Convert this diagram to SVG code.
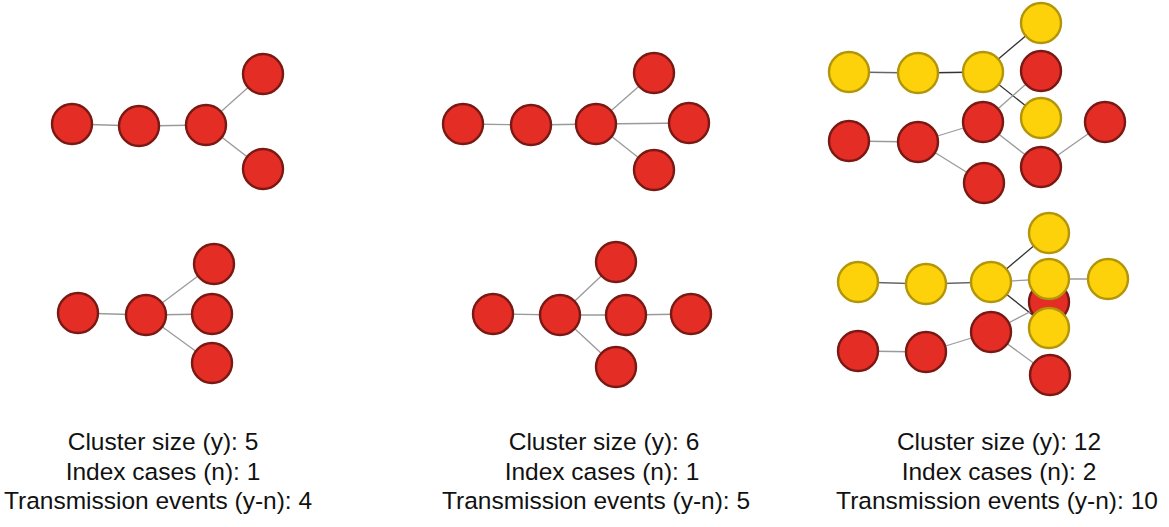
<svg xmlns="http://www.w3.org/2000/svg" width="1169" height="527" viewBox="0 0 1169 527">
<style>
.r{fill:#e32d25;stroke:#7a1913;stroke-width:2.4}
.y{fill:#fed20a;stroke:#b39509;stroke-width:2.4}
.e{stroke:#9a9a9a;stroke-width:1.3;fill:none}
.d{stroke:#333;stroke-width:1.3;fill:none}
.m{stroke:#666;stroke-width:1.3;fill:none}
.t{font-family:"Liberation Sans",Arial,sans-serif;font-size:24.5px;fill:#111;text-anchor:middle}
</style>
<rect width="1169" height="527" fill="#fff"/>
<g id="connectors">
<line class="e" x1="72" y1="124" x2="139" y2="126"/>
<line class="e" x1="139" y1="126" x2="206" y2="125"/>
<line class="e" x1="206" y1="125" x2="263" y2="74"/>
<line class="e" x1="206" y1="125" x2="263" y2="169"/>
<line class="e" x1="463" y1="124" x2="531" y2="125"/>
<line class="e" x1="531" y1="125" x2="596" y2="124"/>
<line class="e" x1="596" y1="124" x2="654" y2="73"/>
<line class="e" x1="596" y1="124" x2="689" y2="123"/>
<line class="e" x1="596" y1="124" x2="654" y2="170"/>
<line class="m" x1="849" y1="72" x2="918" y2="73"/>
<line class="d" x1="918" y1="73" x2="983" y2="72"/>
<line class="d" x1="983" y1="72" x2="1041" y2="23"/>
<line class="d" x1="983" y1="72" x2="1041" y2="118"/>
<line class="e" x1="849" y1="141" x2="918" y2="142"/>
<line class="e" x1="918" y1="142" x2="983" y2="122"/>
<line class="e" x1="918" y1="142" x2="984" y2="183"/>
<line class="e" x1="983" y1="122" x2="1041" y2="71"/>
<line class="e" x1="983" y1="122" x2="1041" y2="167"/>
<line class="e" x1="1041" y1="167" x2="1105" y2="122"/>
<line class="e" x1="78" y1="313" x2="146" y2="315"/>
<line class="e" x1="146" y1="315" x2="214" y2="264"/>
<line class="e" x1="146" y1="315" x2="212" y2="314"/>
<line class="e" x1="146" y1="315" x2="212" y2="363"/>
<line class="e" x1="493" y1="314" x2="560" y2="315"/>
<line class="e" x1="560" y1="315" x2="616" y2="262"/>
<line class="e" x1="560" y1="315" x2="626" y2="315"/>
<line class="e" x1="560" y1="315" x2="616" y2="367"/>
<line class="e" x1="626" y1="315" x2="691" y2="314"/>
<line class="m" x1="858" y1="282" x2="926" y2="284"/>
<line class="m" x1="926" y1="284" x2="991" y2="282"/>
<line class="d" x1="991" y1="282" x2="1049" y2="233"/>
<line class="e" x1="991" y1="282" x2="1049" y2="279"/>
<line class="e" x1="1049" y1="279" x2="1108" y2="279"/>
<line class="d" x1="991" y1="282" x2="1049" y2="328"/>
<line class="e" x1="858" y1="351" x2="926" y2="352"/>
<line class="e" x1="926" y1="352" x2="991" y2="332"/>
<line class="e" x1="991" y1="332" x2="1049" y2="302"/>
<line class="e" x1="991" y1="332" x2="1050" y2="375"/>
</g>
<g id="p1">
<g id="p1n1"><circle class="r" cx="72" cy="124" r="20"/></g>
<g id="p1n2"><circle class="r" cx="139" cy="126" r="20"/></g>
<g id="p1n3"><circle class="r" cx="206" cy="125" r="20"/></g>
<g id="p1n4"><circle class="r" cx="263" cy="74" r="20"/></g>
<g id="p1n5"><circle class="r" cx="263" cy="169" r="20"/></g>
</g>
<g id="p2">
<g id="p2n1"><circle class="r" cx="463" cy="124" r="20"/></g>
<g id="p2n2"><circle class="r" cx="531" cy="125" r="20"/></g>
<g id="p2n3"><circle class="r" cx="596" cy="124" r="20"/></g>
<g id="p2n4"><circle class="r" cx="654" cy="73" r="20"/></g>
<g id="p2n5"><circle class="r" cx="689" cy="123" r="20"/></g>
<g id="p2n6"><circle class="r" cx="654" cy="170" r="20"/></g>
</g>
<g id="p3">
<g id="p3y1"><circle class="y" cx="849" cy="72" r="20"/></g>
<g id="p3y2"><circle class="y" cx="918" cy="73" r="20"/></g>
<g id="p3y3"><circle class="y" cx="983" cy="72" r="20"/></g>
<g id="p3y4"><circle class="y" cx="1041" cy="23" r="20"/></g>
<g id="p3r1"><circle class="r" cx="1041" cy="71" r="20"/></g>
<g id="p3y5"><circle class="y" cx="1041" cy="118" r="20"/></g>
<g id="p3r2"><circle class="r" cx="849" cy="141" r="20"/></g>
<g id="p3r3"><circle class="r" cx="918" cy="142" r="20"/></g>
<g id="p3r4"><circle class="r" cx="983" cy="122" r="20"/></g>
<g id="p3r5"><circle class="r" cx="984" cy="183" r="20"/></g>
<g id="p3r6"><circle class="r" cx="1041" cy="167" r="20"/></g>
<g id="p3r7"><circle class="r" cx="1105" cy="122" r="20"/></g>
</g>
<g id="p4">
<g id="p4n1"><circle class="r" cx="78" cy="313" r="20"/></g>
<g id="p4n2"><circle class="r" cx="146" cy="315" r="20"/></g>
<g id="p4n3"><circle class="r" cx="214" cy="264" r="20"/></g>
<g id="p4n4"><circle class="r" cx="212" cy="314" r="20"/></g>
<g id="p4n5"><circle class="r" cx="212" cy="363" r="20"/></g>
</g>
<g id="p5">
<g id="p5n1"><circle class="r" cx="493" cy="314" r="20"/></g>
<g id="p5n2"><circle class="r" cx="560" cy="315" r="20"/></g>
<g id="p5n3"><circle class="r" cx="616" cy="262" r="20"/></g>
<g id="p5n4"><circle class="r" cx="626" cy="315" r="20"/></g>
<g id="p5n5"><circle class="r" cx="691" cy="314" r="20"/></g>
<g id="p5n6"><circle class="r" cx="616" cy="367" r="20"/></g>
</g>
<g id="p6">
<g id="p6y1"><circle class="y" cx="858" cy="282" r="20"/></g>
<g id="p6y2"><circle class="y" cx="926" cy="284" r="20"/></g>
<g id="p6y3"><circle class="y" cx="991" cy="282" r="20"/></g>
<g id="p6y4"><circle class="y" cx="1049" cy="233" r="20"/></g>
<g id="p6r0"><circle class="r" cx="1049" cy="302" r="20"/></g>
<g id="p6y5"><circle class="y" cx="1049" cy="279" r="20"/></g>
<g id="p6y6"><circle class="y" cx="1108" cy="279" r="20"/></g>
<g id="p6y7"><circle class="y" cx="1049" cy="328" r="20"/></g>
<g id="p6r1"><circle class="r" cx="858" cy="351" r="20"/></g>
<g id="p6r2"><circle class="r" cx="926" cy="352" r="20"/></g>
<g id="p6r3"><circle class="r" cx="991" cy="332" r="20"/></g>
<g id="p6r4"><circle class="r" cx="1050" cy="375" r="20"/></g>
</g>
<g id="labels">
<text class="t" x="163" y="450">Cluster size (y): 5</text>
<text class="t" x="163" y="480">Index cases (n): 1</text>
<text class="t" x="158" y="509">Transmission events (y-n): 4</text>
<text class="t" x="604" y="450">Cluster size (y): 6</text>
<text class="t" x="602" y="480">Index cases (n): 1</text>
<text class="t" x="596" y="509">Transmission events (y-n): 5</text>
<text class="t" x="999" y="450">Cluster size (y): 12</text>
<text class="t" x="999" y="480">Index cases (n): 2</text>
<text class="t" x="997" y="509">Transmission events (y-n): 10</text>
</g>
</svg>
